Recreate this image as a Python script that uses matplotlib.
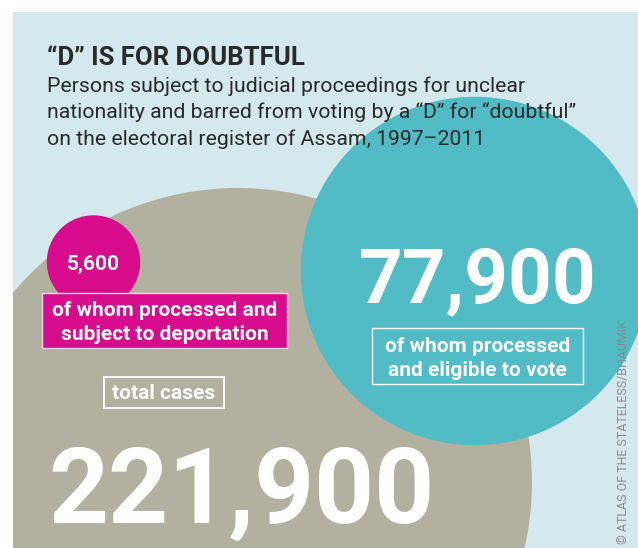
import numpy as np
import matplotlib
matplotlib.use("Agg")
import matplotlib.pyplot as plt
from matplotlib.patches import Circle, Rectangle

# ---- data ----
labels = ["total cases", "of whom processed\nand eligible to vote",
          "of whom processed and\nsubject to deportation"]
values = [221900, 77900, 5600]
value_text = ["221,900", "77,900", "5,600"]
title = "\u201cD\u201d IS FOR DOUBTFUL"
subtitle = ["Persons subject to judicial proceedings for unclear",
            "nationality and barred from voting by a \u201cD\u201d for \u201cdoubtful\u201d",
            "on the electoral register of Assam, 1997\u20132011"]
credit = "\u00a9 ATLAS OF THE STATELESS/BHAUMIK"

# ---- style ----
BG = "#d3e9ee"
GREY = "#b2b1a0"
TEAL = "#51bcc6"
MAGENTA = "#d70b8c"
DARK = "#2a2a2a"
FONT = ["Roboto", "DejaVu Sans"]

W, H = 638, 548
fig = plt.figure(figsize=(W / 100, H / 100), dpi=100)
fig.patch.set_facecolor("white")
ax = fig.add_axes([0, 0, 1, 1])
ax.set_xlim(0, W)
ax.set_ylim(H, 0)
ax.set_aspect("equal")
ax.axis("off")

# panel
panel = Rectangle((13, 12), W - 13, H - 12, facecolor=BG, edgecolor="none", zorder=0)
ax.add_patch(panel)

# circle areas proportional to values
k = 294 / np.sqrt(values[0])
radii = [k * np.sqrt(v) for v in values]
centers = [(238, 482), (475, 271), (93.5, 262)]
colors = [GREY, TEAL, MAGENTA]
for (cx, cy), r, c, z in zip(centers, radii, colors, [1, 2, 3]):
    circ = Circle((cx, cy), r, facecolor=c, edgecolor="none", zorder=z)
    ax.add_patch(circ)
    circ.set_clip_path(panel)

# title / subtitle
ax.text(47, 65, title, fontsize=18.5, fontweight="bold", color=DARK,
        family=FONT, va="baseline", ha="left", zorder=10)
for i, line in enumerate(subtitle):
    ax.text(47, 92 + 26.3 * i, line, fontsize=15.3, color=DARK,
            family=FONT, va="baseline", ha="left", zorder=10)

# big numbers
ax.text(48, 522, value_text[0], fontsize=75.5, fontweight="bold", color="white",
        family=FONT, va="baseline", ha="left", zorder=10)
ax.text(478, 302, value_text[1], fontsize=55, fontweight="bold", color="white",
        family=FONT, va="baseline", ha="center", zorder=10)
ax.text(93.5, 270, value_text[2], fontsize=15, fontweight="bold", color="white",
        family=FONT, va="baseline", ha="center", zorder=10)

# label boxes
ax.add_patch(Rectangle((42, 293), 245, 55, facecolor=MAGENTA, edgecolor="#f3d6e8",
                       lw=1.0, zorder=6))
for i, line in enumerate(labels[2].split("\n")):
    ax.text(164.5, 316 + 23.5 * i, line, fontsize=15, fontweight="bold",
            color="white", family=FONT, va="baseline", ha="center", zorder=10)

ax.add_patch(Rectangle((104, 377), 120, 31, facecolor="none", edgecolor="white",
                       lw=1.3, zorder=6))
ax.text(164, 399, labels[0], fontsize=15, fontweight="bold", color="white",
        family=FONT, va="baseline", ha="center", zorder=10)

ax.add_patch(Rectangle((372, 328), 211, 56, facecolor="none", edgecolor="white",
                       lw=1.0, zorder=6))
for i, line in enumerate(labels[1].split("\n")):
    ax.text(477.5, 352 + 23.5 * i, line, fontsize=15, fontweight="bold",
            color="white", family=FONT, va="baseline", ha="center", zorder=10)

# credit
ax.text(627, 544, credit, fontsize=9, color="#8a8a8a", family=FONT,
        rotation=90, va="baseline", ha="left", rotation_mode="anchor", zorder=10)

fig.savefig("out.png", dpi=100, facecolor="white")
